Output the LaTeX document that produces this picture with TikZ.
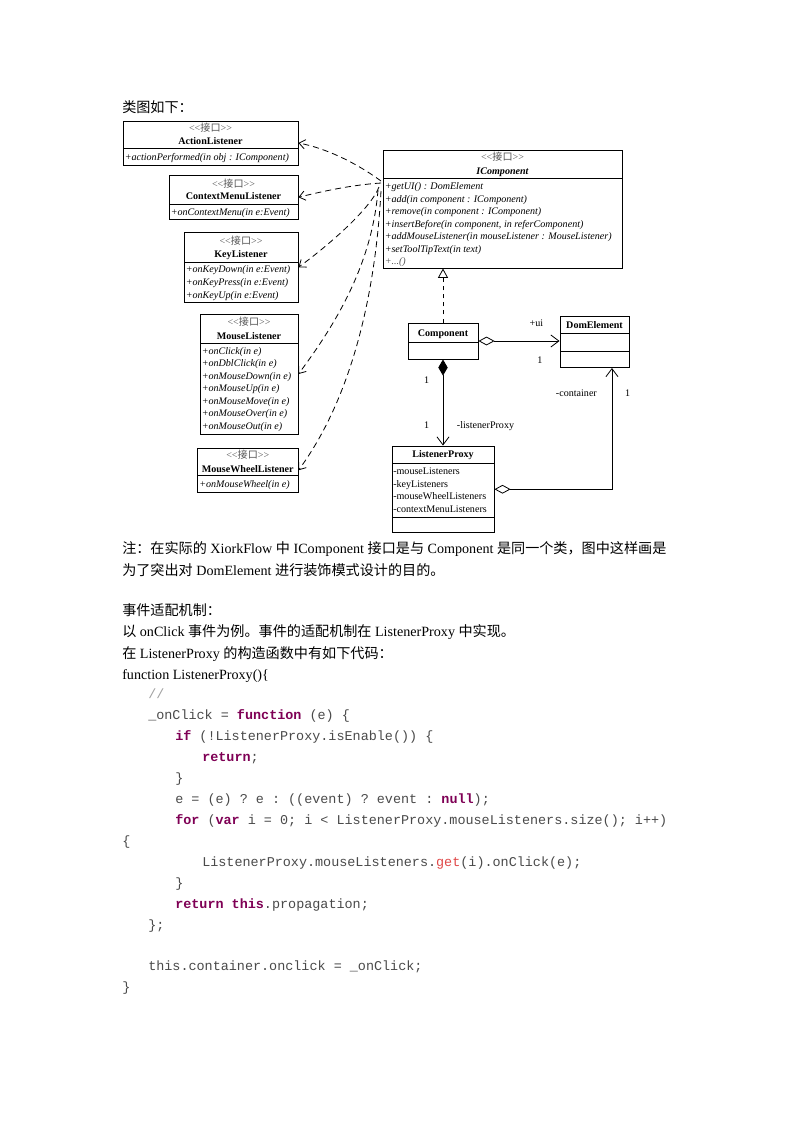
\documentclass[tikz,border=0pt]{standalone}
\usepackage{fontspec}
\setmainfont{Liberation Serif}
\setmonofont{Liberation Mono}
\newfontfamily\cjk{Noto Sans CJK SC}
\usetikzlibrary{arrows.meta,fit,calc}
\definecolor{codegray}{HTML}{4A4A4A}
\definecolor{kwpurple}{HTML}{7F0055}
\definecolor{getred}{HTML}{E04848}
\definecolor{comgray}{HTML}{A0A0A0}
\definecolor{stgray}{HTML}{555555}
\newcommand\kw[1]{\textcolor{kwpurple}{\textbf{#1}}}
\newcommand\stereo{<\kern0pt<{\cjk 接口}>\kern0pt>}
\begin{document}
\begin{tikzpicture}[x=0.744pt,y=-0.744pt,
  box/.style={draw, inner sep=0pt, line width=0.7pt},
  divline/.style={line width=0.7pt},
  umlf/.style={font=\fontsize{7.5}{9}\selectfont, inner sep=0pt},
  st/.style={umlf, text=stgray, anchor=base},
  cname/.style={umlf, font=\fontsize{7.5}{9}\selectfont\bfseries, anchor=base},
  meth/.style={umlf, font=\fontsize{7.5}{9}\selectfont\itshape, anchor=base west},
  attr/.style={umlf, anchor=base west},
  lbl/.style={umlf, anchor=base},
  body/.style={font=\fontsize{10.5}{12}\selectfont, anchor=base west, inner sep=0pt},
  code/.style={font=\fontsize{10}{12}\ttfamily, text=codegray, anchor=base west, inner sep=0pt},
  dep/.style={line width=0.6pt, dash pattern=on 4.5pt off 3pt, -{Straight Barb[length=4.5pt,width=7pt]}},
  assoc/.style={line width=0.6pt}
]
\fill[white] (0,0) rectangle (800,1132);
\useasboundingbox (0,0) rectangle (800,1132);

% heading
\node[body] (t0) at (122,112) {{\cjk 类图如下：}};

% ActionListener
\node[box, fit={(123,121) (298,165)}] (al) {};
\draw[divline] (123,148.5) -- (298,148.5);
\node[st] (al-s) at (210.5,131) {\stereo};
\node[cname] (al-n) at (210.5,144.5) {ActionListener};
\node[meth] (al-m1) at (124.5,160) {+actionPerformed(in obj : IComponent)};

% ContextMenuListener
\node[box, fit={(169,175) (298,219.5)}] (cm) {};
\draw[divline] (169,204) -- (298,204);
\node[st] (cm-s) at (233.5,187) {\stereo};
\node[cname] (cm-n) at (233.5,199.5) {ContextMenuListener};
\node[meth] (cm-m1) at (170.5,215) {+onContextMenu(in e:Event)};

% KeyListener
\node[box, fit={(184,232.5) (298,302)}] (kl) {};
\draw[divline] (184,262) -- (298,262);
\node[st] (kl-s) at (241,244) {\stereo};
\node[cname] (kl-n) at (241,257.5) {KeyListener};
\node[meth] (kl-m1) at (185.5,272.5) {+onKeyDown(in e:Event)};
\node[meth] (kl-m2) at (185.5,285) {+onKeyPress(in e:Event)};
\node[meth] (kl-m3) at (185.5,298) {+onKeyUp(in e:Event)};

% MouseListener
\node[box, fit={(200,314) (298,434)}] (ml) {};
\draw[divline] (200,343) -- (298,343);
\node[st] (ml-s) at (249,325.5) {\stereo};
\node[cname] (ml-n) at (249,339.5) {MouseListener};
\node[meth] (ml-m1) at (201.5,354) {+onClick(in e)};
\node[meth] (ml-m2) at (201.5,366.5) {+onDblClick(in e)};
\node[meth] (ml-m3) at (201.5,379) {+onMouseDown(in e)};
\node[meth] (ml-m4) at (201.5,391.5) {+onMouseUp(in e)};
\node[meth] (ml-m5) at (201.5,404) {+onMouseMove(in e)};
\node[meth] (ml-m6) at (201.5,416.5) {+onMouseOver(in e)};
\node[meth] (ml-m7) at (201.5,429) {+onMouseOut(in e)};

% MouseWheelListener
\node[box, fit={(197.5,448) (298,492.5)}] (mw) {};
\draw[divline] (197.5,475.5) -- (298,475.5);
\node[st] (mw-s) at (247.75,458) {\stereo};
\node[cname] (mw-n) at (247.75,472) {MouseWheelListener};
\node[meth] (mw-m1) at (199,487) {+onMouseWheel(in e)};

% IComponent
\node[box, fit={(383,150) (622,268)}] (ic) {};
\draw[divline] (383,178.5) -- (622,178.5);
\node[st] (ic-s) at (502.5,160.5) {\stereo};
\node[cname, font=\fontsize{7.5}{9}\selectfont\bfseries\itshape] (ic-n) at (502.5,174) {IComponent};
\node[meth] (ic-m1) at (384.5,189.5) {+getUI() : DomElement};
\node[meth] (ic-m2) at (384.5,202) {+add(in component : IComponent)};
\node[meth] (ic-m3) at (384.5,214.5) {+remove(in component : IComponent)};
\node[meth] (ic-m4) at (384.5,227) {+insertBefore(in component, in referComponent)};
\node[meth] (ic-m5) at (384.5,239.5) {+addMouseListener(in mouseListener : MouseListener)};
\node[meth] (ic-m6) at (384.5,252) {+setToolTipText(in text)};
\node[meth, text=stgray] (ic-m7) at (384.5,264.5) {+...()};

% Component
\node[box, fit={(408,323) (478,359)}] (comp) {};
\draw[divline] (408,342.5) -- (478,342.5);
\node[cname] (comp-n) at (443,336) {Component};

% DomElement
\node[box, fit={(560,316) (629,367.5)}] (dom) {};
\draw[divline] (560,333.5) -- (629,333.5);
\draw[divline] (560,351) -- (629,351);
\node[cname] (dom-n) at (594.5,328) {DomElement};

% ListenerProxy
\node[box, fit={(392,446) (494,532.5)}] (lp) {};
\draw[divline] (392,463) -- (494,463);
\draw[divline] (392,517) -- (494,517);
\node[cname] (lp-n) at (443,457.5) {ListenerProxy};
\node[attr] (lp-a1) at (393,474.5) {-mouseListeners};
\node[attr] (lp-a2) at (393,487) {-keyListeners};
\node[attr] (lp-a3) at (393,499.5) {-mouseWheelListeners};
\node[attr] (lp-a4) at (393,512) {-contextMenuListeners};

% connectors
\draw[assoc, dashed, -{Triangle[open,length=7pt,width=7.5pt]}] (comp.north) -- (comp.north |- ic.south);
\draw[assoc, {Diamond[length=12pt,width=7pt]}-{Straight Barb[length=6pt,width=9pt]}] (comp.south) -- (lp.north);
\draw[assoc, {Diamond[open,length=12pt,width=6.5pt]}-{Straight Barb[length=6pt,width=9pt]}] (comp.east) -- (comp.east -| dom.west);
\coordinate (domin) at ($(dom.south east)+(-17.5,0)$);
\draw[assoc, {Diamond[open,length=12pt,width=6.5pt]}-{Straight Barb[length=6pt,width=9pt]}] (lp.east) -| (domin);

\node[lbl] (l-ui) at (536.5,326.3) {+ui};
\node[lbl] (l-1a) at (540,363.7) {1};
\node[lbl] (l-1b) at (426.7,383) {1};
\node[lbl] (l-1c) at (426.7,428) {1};
\node[lbl, anchor=base west] (l-lp) at (456.7,428) {-listenerProxy};
\node[lbl, anchor=base west] (l-ct) at (555.7,396.3) {-container};
\node[lbl] (l-1d) at (627.7,396.3) {1};

% dependencies
\coordinate (s1) at (381,181);
\coordinate (s2) at (381,183);
\coordinate (s3) at (379,187);
\coordinate (s4) at (378,190);
\coordinate (s5) at (381,191);
\draw[dep] (s1) .. controls (355,162) and (325,148) .. (al.east);
\draw[dep] (s2) .. controls (350,185) and (320,192) .. (cm.east);
\draw[dep] (s3) .. controls (370,210) and (325,248) .. (kl.east);
\draw[dep] (s4) .. controls (372,265) and (335,325) .. (ml.east);
\draw[dep] (s5) .. controls (375,300) and (350,400) .. (mw.east);

% text below
\node[body] (t1) at (122,553) {{\cjk 注：在实际的} XiorkFlow {\cjk 中} IComponent {\cjk 接口是与} Component {\cjk 是同一个类，图中这样画是}};
\node[body] (t2) at (122,575) {{\cjk 为了突出对} DomElement {\cjk 进行装饰模式设计的目的。}};
\node[body] (t3) at (122,615) {{\cjk 事件适配机制：}};
\node[body] (t4) at (122,636) {{\cjk 以} onClick {\cjk 事件为例。事件的适配机制在} ListenerProxy {\cjk 中实现。}};
\node[body] (t5) at (122,658) {{\cjk 在} ListenerProxy {\cjk 的构造函数中有如下代码：}};
\node[body] (t6) at (122,679) {function ListenerProxy()\{};

% code
\node[code] (c1) at (148,698) {\textcolor{comgray}{//}};
\node[code] (c2) at (148,719) {\_onClick = \kw{function} (e) \{};
\node[code] (c3) at (175,740) {\kw{if} (!ListenerProxy.isEnable()) \{};
\node[code] (c4) at (202,761) {\kw{return};};
\node[code] (c5) at (175,782) {\}};
\node[code] (c6) at (175,803) {e = (e) ? e : ((event) ? event : \kw{null});};
\node[code] (c7) at (175,824) {\kw{for} (\kw{var} i = 0; i < ListenerProxy.mouseListeners.size(); i++)};
\node[code] (c8) at (122,845) {\{};
\node[code] (c9) at (202,866) {ListenerProxy.mouseListeners.\textcolor{getred}{get}(i).onClick(e);};
\node[code] (c10) at (175,887) {\}};
\node[code] (c11) at (175,908) {\kw{return} \kw{this}.propagation;};
\node[code] (c12) at (148,929) {\};};
\node[code] (c13) at (148,970) {this.container.onclick = \_onClick;};
\node[code] (c14) at (122,991) {\}};
\end{tikzpicture}
\end{document}
